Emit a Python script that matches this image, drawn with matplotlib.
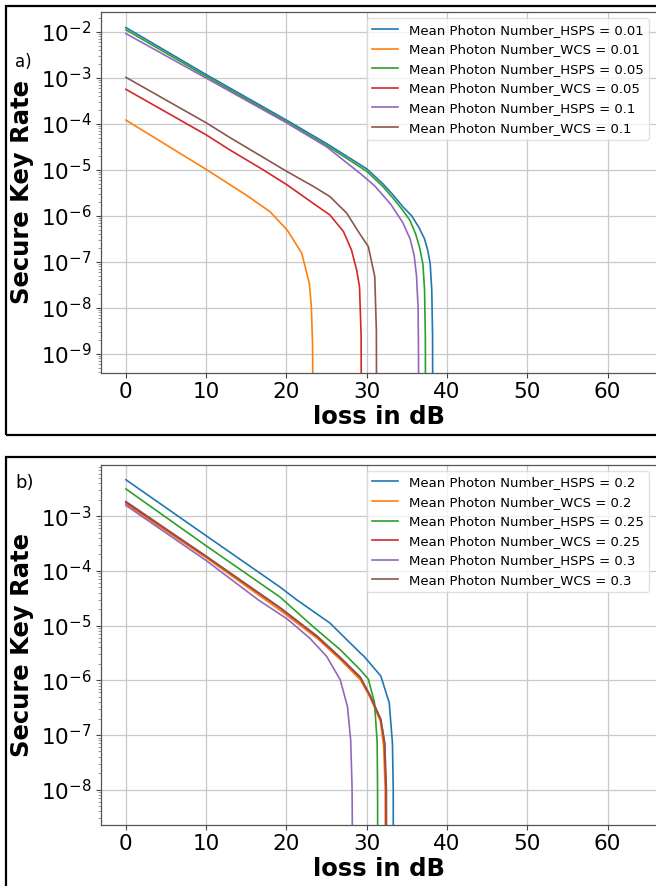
import matplotlib
matplotlib.use("Agg")
import matplotlib.pyplot as plt
from matplotlib.patches import Rectangle
from matplotlib.ticker import LogLocator

# ---------------- data: panel a ----------------
labels_a = ["Mean Photon Number_HSPS = 0.01", "Mean Photon Number_WCS = 0.01",
            "Mean Photon Number_HSPS = 0.05", "Mean Photon Number_WCS = 0.05",
            "Mean Photon Number_HSPS = 0.1", "Mean Photon Number_WCS = 0.1"]

loss_a_hsps_001 = [0, 10, 20, 25, 30, 32, 33.3, 34.5, 35.6, 36.5, 37.2, 37.6, 37.9, 38.1, 38.2, 38.25]
rate_a_hsps_001 = [1.23e-2, 1.17e-3, 1.20e-4, 3.72e-5, 1.05e-5, 5.0e-6, 2.82e-6, 1.58e-6, 1.0e-6,
                   5.6e-7, 3.16e-7, 1.78e-7, 9.3e-8, 2.5e-8, 2.5e-9, 1e-12]

loss_a_wcs_001 = [0, 10, 15, 17.95, 20.1, 21.9, 22.85, 23.1, 23.25, 23.35]
rate_a_wcs_001 = [1.20e-4, 1.02e-5, 2.82e-6, 1.23e-6, 4.9e-7, 1.55e-7, 3.39e-8, 1.07e-8, 1.58e-9, 1e-12]

loss_a_hsps_005 = [0, 10, 20, 25, 30, 32, 33.3, 34.5, 35.4, 36.1, 36.6, 37.0, 37.2, 37.3, 37.35]
rate_a_hsps_005 = [1.10e-2, 1.07e-3, 1.10e-4, 3.39e-5, 9.3e-6, 4.37e-6, 2.4e-6, 1.32e-6, 7.9e-7,
                   4.0e-7, 2.0e-7, 8.9e-8, 2.5e-8, 2.5e-9, 1e-12]

loss_a_wcs_005 = [0, 10, 12.97, 17.1, 20.1, 23.35, 25.4, 27.1, 28.1, 28.75, 29.1, 29.3, 29.35]
rate_a_wcs_005 = [5.6e-4, 5.75e-5, 2.69e-5, 1.0e-5, 4.68e-6, 1.86e-6, 1.05e-6, 4.57e-7, 1.82e-7,
                  6.6e-8, 2.88e-8, 2.5e-9, 1e-12]

loss_a_hsps_01 = [0, 10, 20, 25, 29.2, 31, 33, 34.5, 35.4, 35.9, 36.2, 36.4, 36.45, 36.5]
rate_a_hsps_01 = [9.1e-3, 9.8e-4, 1.05e-4, 3.16e-5, 8.3e-6, 4.47e-6, 1.78e-6, 7.1e-7, 3.16e-7,
                  1.41e-7, 5.0e-8, 1.0e-8, 1.0e-9, 1e-12]

loss_a_wcs_01 = [0, 10, 12.97, 20.1, 23.35, 25.4, 27.5, 28.95, 30.2, 31.0, 31.2, 31.25]
rate_a_wcs_01 = [1.02e-3, 1.05e-4, 5.0e-5, 9.1e-6, 4.37e-6, 2.63e-6, 1.15e-6, 4.57e-7, 2.14e-7,
                 4.8e-8, 3.16e-9, 1e-12]

# ---------------- data: panel b ----------------
labels_b = ["Mean Photon Number_HSPS = 0.2", "Mean Photon Number_WCS = 0.2",
            "Mean Photon Number_HSPS = 0.25", "Mean Photon Number_WCS = 0.25",
            "Mean Photon Number_HSPS = 0.3", "Mean Photon Number_WCS = 0.3"]

loss_b_hsps_02 = [0, 10, 19.2, 21.3, 25.4, 29.2, 29.66, 31.75, 32.8, 33.2, 33.3, 33.35]
rate_b_hsps_02 = [4.65e-3, 4.4e-4, 5.07e-5, 2.95e-5, 1.12e-5, 3.16e-6, 2.75e-6, 1.2e-6, 3.9e-7,
                  7.2e-8, 1.0e-8, 1e-12]

loss_b_wcs_02 = [0, 10, 19.2, 23.8, 26.7, 29.2, 30.45, 31.7, 32.1, 32.3, 32.35]
rate_b_wcs_02 = [1.66e-3, 1.74e-4, 1.91e-5, 5.9e-6, 2.4e-6, 1.02e-6, 4.8e-7, 1.78e-7, 6.3e-8,
                 1.0e-8, 1e-12]

loss_b_hsps_025 = [0, 10, 19.2, 23.35, 26.7, 29.2, 30.2, 30.97, 31.3, 31.35, 31.4]
rate_b_hsps_025 = [3.16e-3, 2.88e-4, 3.33e-5, 9.5e-6, 3.63e-6, 1.55e-6, 1.05e-6, 3.9e-7, 7.2e-8,
                   1.0e-8, 1e-12]

loss_b_wcs_025 = [0, 10, 19.2, 23.8, 26.7, 29.2, 30.45, 31.75, 32.2, 32.4, 32.45]
rate_b_wcs_025 = [1.78e-3, 1.84e-4, 2.09e-5, 6.3e-6, 2.57e-6, 1.12e-6, 5.1e-7, 1.9e-7, 7.2e-8,
                  1.0e-8, 1e-12]

loss_b_hsps_03 = [0, 10, 16.5, 20.1, 22.9, 25, 26.7, 27.6, 28, 28.17, 28.2, 28.22]
rate_b_hsps_03 = [1.58e-3, 1.55e-4, 2.95e-5, 1.32e-5, 5.9e-6, 2.75e-6, 1.02e-6, 3.3e-7, 8.1e-8,
                  1.15e-8, 2.5e-9, 1e-12]

loss_b_wcs_03 = [0, 10, 19.2, 23.8, 26.7, 29.2, 30.45, 31.75, 32.25, 32.45, 32.5]
rate_b_wcs_03 = [1.86e-3, 1.86e-4, 2.14e-5, 6.5e-6, 2.63e-6, 1.15e-6, 5.2e-7, 1.95e-7, 7.2e-8,
                 1.0e-8, 1e-12]

xticks = [0, 10, 20, 30, 40, 50, 60]
yticks_a = [1e-9, 1e-8, 1e-7, 1e-6, 1e-5, 1e-4, 1e-3, 1e-2]
yticks_b = [1e-8, 1e-7, 1e-6, 1e-5, 1e-4, 1e-3]

series_a = [(loss_a_hsps_001, rate_a_hsps_001), (loss_a_wcs_001, rate_a_wcs_001),
            (loss_a_hsps_005, rate_a_hsps_005), (loss_a_wcs_005, rate_a_wcs_005),
            (loss_a_hsps_01, rate_a_hsps_01), (loss_a_wcs_01, rate_a_wcs_01)]
series_b = [(loss_b_hsps_02, rate_b_hsps_02), (loss_b_wcs_02, rate_b_wcs_02),
            (loss_b_hsps_025, rate_b_hsps_025), (loss_b_wcs_025, rate_b_wcs_025),
            (loss_b_hsps_03, rate_b_hsps_03), (loss_b_wcs_03, rate_b_wcs_03)]

colors = ["#1f77b4", "#ff7f0e", "#2ca02c", "#d62728", "#9467bd", "#8c564b"]

W, H = 656, 886
fig = plt.figure(figsize=(W / 100, H / 100), dpi=100)


def fx(px):
    return px / W


def fy(py):
    return 1 - py / H


def make_panel(top, bottom, series, labels, ylim, yticks, letter, letter_y, letter_size, xlabel_base):
    ax = fig.add_axes([fx(101.2), fy(bottom), fx(657) - fx(101.2), (bottom - top) / H])
    for (x, y), lab, c in zip(series, labels, colors):
        ax.plot(x, y, color=c, lw=1.2, label=lab)
    ax.set_yscale("log")
    ax.set_xlim(-3.08, 66.16)
    ax.set_ylim(*ylim)
    ax.set_xticks(xticks)
    ax.set_yticks(yticks)
    ax.yaxis.set_minor_locator(LogLocator(base=10, subs=range(2, 10), numticks=20))
    ax.yaxis.set_minor_formatter(matplotlib.ticker.NullFormatter())
    ax.grid(True, which="major", color="#c8c8c8", lw=0.9)
    ax.tick_params(axis="both", which="major", labelsize=15.5, length=3.5, color="#444444")
    ax.tick_params(axis="y", which="minor", length=2, color="#888888")
    for s in ax.spines.values():
        s.set_color("#555555")
        s.set_linewidth(0.9)
    ax.legend(loc="upper right", bbox_to_anchor=(fx(649), fy(top + 6)),
              bbox_transform=fig.transFigure, borderaxespad=0, fontsize=9.5,
              framealpha=0.8, edgecolor="0.85", labelspacing=0.5)
    fig.text(fx(22), fy((top + bottom) / 2), "Secure Key Rate", rotation=90,
             ha="center", va="center", fontsize=17.5, fontweight="bold")
    fig.text(fx(379), fy(xlabel_base), "loss in dB", ha="center", va="baseline",
             fontsize=17.5, fontweight="bold")
    fig.text(fx(15), fy(letter_y), letter, ha="left", va="center", fontsize=letter_size)
    return ax


make_panel(12.3, 372.7, series_a, labels_a, (10 ** -9.406, 10 ** -1.579), yticks_a, "a)", 62, 12, 424)
make_panel(464.7, 824.7, series_b, labels_b, (10 ** -8.64, 10 ** -2.057), yticks_b, "b)", 483, 13, 876)

# panel frames
fig.patches.append(Rectangle((fx(6.3), fy(435)), 1.2, fy(6.3) - fy(435), transform=fig.transFigure,
                             fill=False, edgecolor="black", lw=1.6))
fig.patches.append(Rectangle((fx(6.3), fy(900)), 1.2, fy(457) - fy(900), transform=fig.transFigure,
                             fill=False, edgecolor="black", lw=1.6))

fig.savefig("out.png", dpi=100)
